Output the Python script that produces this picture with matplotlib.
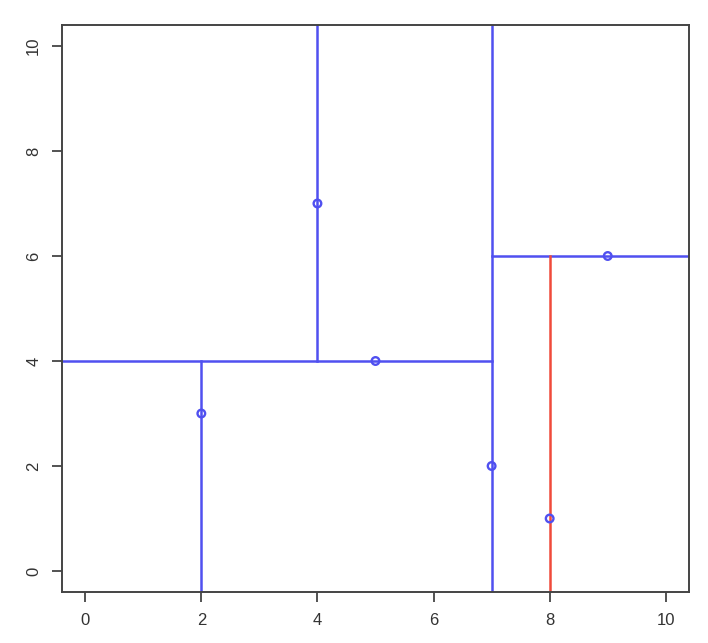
import matplotlib.pyplot as plt

plt.rcParams['font.family'] = ['Liberation Sans', 'DejaVu Sans']

# kd-tree points
xs = [2, 4, 5, 7, 8, 9]
ys = [3, 7, 4, 2, 1, 6]

xlim = (-0.4, 10.4)
ylim = (-0.4, 10.4)

# splits: (orientation, value, lo, hi, colour)
blue = '#5050f0'
red = '#f04a3a'
splits = [
    ('v', 7, ylim[0], ylim[1], blue),
    ('h', 4, xlim[0], 7, blue),
    ('v', 4, 4, ylim[1], blue),
    ('v', 2, ylim[0], 4, blue),
    ('h', 6, 7, xlim[1], blue),
    ('v', 8, ylim[0], 6, red),
]

fig = plt.figure(figsize=(7.08, 6.43), dpi=100)
ax = fig.add_axes([62/708, 51/643, 627/708, 567/643])

for kind, v, lo, hi, c in splits:
    if kind == 'v':
        ax.plot([v, v], [lo, hi], color=c, lw=1.8)
    else:
        ax.plot([lo, hi], [v, v], color=c, lw=1.8)

ax.scatter(xs, ys, s=30, facecolors='none', edgecolors=blue, linewidths=1.7, zorder=3)

ax.set_xlim(*xlim)
ax.set_ylim(*ylim)
ax.set_xticks([0, 2, 4, 6, 8, 10])
ax.set_yticks([0, 2, 4, 6, 8, 10])
for s in ax.spines.values():
    s.set_color('#444444')
    s.set_linewidth(1.4)
ax.tick_params(length=7, width=1.3, color='#444444', labelsize=12, labelcolor='#333333', pad=8)
for lab in ax.get_yticklabels():
    lab.set_rotation(90)
    lab.set_va('center')

fig.savefig('out.png', dpi=100)
